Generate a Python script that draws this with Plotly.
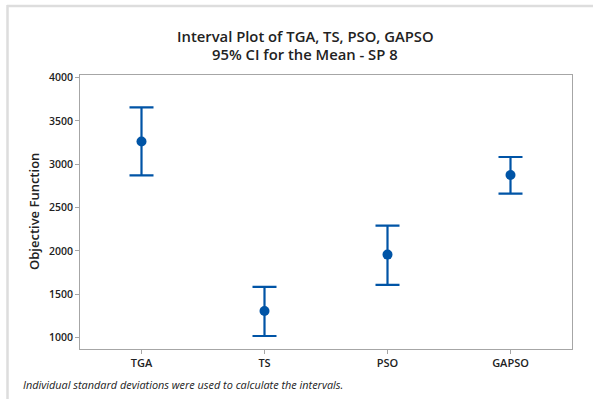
import plotly.graph_objects as go

categories = ["TGA", "TS", "PSO", "GAPSO"]
means = [3262, 1307, 1957, 2875]
upper = [3656, 1584, 2292, 3083]
lower = [2870, 1018, 1607, 2661]
y_ticks = [1000, 1500, 2000, 2500, 3000, 3500, 4000]

title1 = "Interval Plot of TGA, TS, PSO, GAPSO"
title2 = "95% CI for the Mean - SP 8"
y_title = "Objective Function"
footnote = "Individual standard deviations were used to calculate the intervals."

BLUE = "#0054A6"
FONT = "Open Sans"
W, H = 593, 399
L, R, T, B = 80, 21, 75, 50
pw, ph = W - L - R, H - T - B

def px(x):
    return (x - L) / pw

def py(y):
    return (H - B - y) / ph

err_plus = [u - m for u, m in zip(upper, means)]
err_minus = [m - l for m, l in zip(means, lower)]

fig = go.Figure()
fig.add_trace(go.Scatter(
    x=list(range(len(categories))), y=means, mode="markers",
    marker=dict(color=BLUE, size=10),
    error_y=dict(type="data", symmetric=False, array=err_plus, arrayminus=err_minus,
                 color=BLUE, thickness=2.2, width=12),
    showlegend=False, hoverinfo="skip",
))

fig.update_layout(
    width=W, height=H,
    margin=dict(l=L, r=R, t=T, b=B),
    paper_bgcolor="white", plot_bgcolor="white",
    font=dict(family=FONT, color="#222222"),
    xaxis=dict(range=[-0.5, 3.5], tickmode="array", tickvals=list(range(len(categories))),
               ticktext=categories, showgrid=False, zeroline=False,
               showline=True, linecolor="#a6a6a6", linewidth=1, mirror=True,
               ticks="outside", ticklen=4, tickcolor="#a6a6a6",
               tickfont=dict(size=11, family=FONT, weight=600, color="#222222")),
    yaxis=dict(range=[868, 4029], tickmode="array", tickvals=y_ticks,
               ticktext=[str(v) for v in y_ticks], showgrid=False, zeroline=False,
               showline=True, linecolor="#a6a6a6", linewidth=1, mirror=True,
               ticks="outside", ticklen=4, tickcolor="#a6a6a6",
               tickfont=dict(size=10.5, family=FONT, weight=600, color="#222222")),
)

fig.add_annotation(text=title1, x=px(305), y=py(36), xref="paper", yref="paper",
                   showarrow=False, xanchor="center", yanchor="middle",
                   font=dict(size=14.8, family=FONT, weight=600, color="#222222"))
fig.add_annotation(text=title2, x=px(305), y=py(54), xref="paper", yref="paper",
                   showarrow=False, xanchor="center", yanchor="middle",
                   font=dict(size=14.8, family=FONT, weight=600, color="#222222"))
fig.add_annotation(text=y_title, x=px(34), y=py(212), xref="paper", yref="paper",
                   showarrow=False, xanchor="center", yanchor="middle", textangle=-90,
                   font=dict(size=13, family=FONT, weight=600, color="#222222"))
fig.add_annotation(text="<i>" + footnote + "</i>", x=px(21), y=py(384), xref="paper", yref="paper",
                   showarrow=False, xanchor="left", yanchor="middle",
                   font=dict(size=10.9, family=FONT, color="#222222"))

# outer frame (top and left edges of the cropped panel)
fig.add_shape(type="line", xref="paper", yref="paper", x0=px(7), x1=px(600), y0=py(6), y1=py(6),
              line=dict(color="#dddddd", width=2.5))
fig.add_shape(type="line", xref="paper", yref="paper", x0=px(7.5), x1=px(7.5), y0=py(5), y1=py(405),
              line=dict(color="#dddddd", width=2.5))

fig.write_html("out.html")
